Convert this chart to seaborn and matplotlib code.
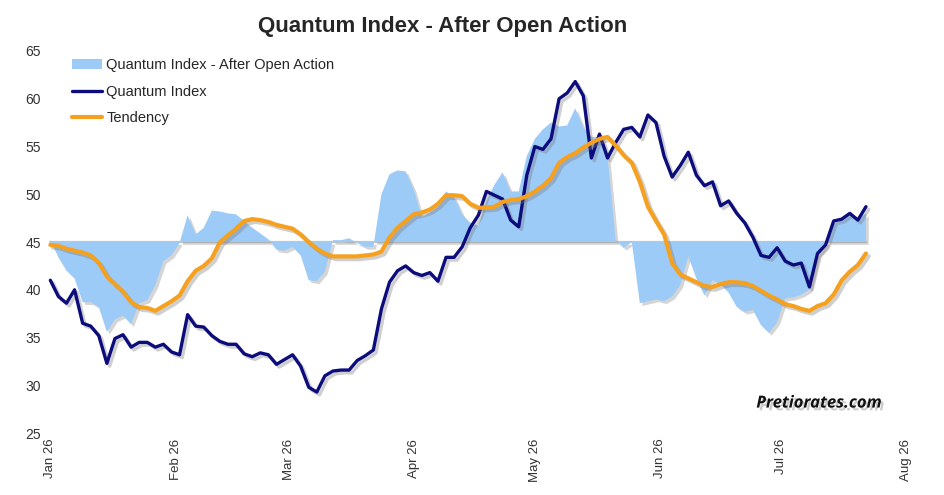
import matplotlib
matplotlib.use("Agg")
import matplotlib.pyplot as plt
import matplotlib.dates as mdates
import matplotlib.patheffects as pe
from matplotlib.patches import Patch
from matplotlib.lines import Line2D
import seaborn as sns
import pandas as pd
import numpy as np

# values, one every two calendar days from 1 Jan 2026
start_date = "2026-01-01"
step = "2D"

quantum_index = [
    41.0, 39.3, 38.6, 40.0, 36.5, 36.2, 35.2, 32.3, 34.9, 35.3,
    34.0, 34.5, 34.5, 34.0, 34.3, 33.5, 33.2, 37.4, 36.2, 36.1,
    35.2, 34.6, 34.3, 34.3, 33.3, 33.0, 33.4, 33.2, 32.2, 32.7,
    33.2, 32.0, 29.8, 29.3, 31.0, 31.5, 31.6, 31.6, 32.6, 33.1,
    33.7, 38.0, 40.8, 42.0, 42.5, 41.8, 41.5, 41.8, 40.9, 43.4,
    43.4, 44.5, 46.5, 47.8, 50.3, 49.9, 49.5, 47.3, 46.6, 52.0,
    55.0, 54.7, 55.8, 60.0, 60.6, 61.8, 60.3, 53.8, 56.3, 53.8,
    55.4, 56.8, 57.0, 56.0, 58.3, 57.5, 54.0, 51.8, 53.0, 54.4,
    52.0, 50.9, 51.3, 48.8, 49.3, 48.0, 47.0, 45.5, 43.6, 43.4,
    44.4, 43.0, 42.6, 42.8, 40.3, 43.8, 44.7, 47.2, 47.4, 48.0,
    47.3, 48.7,
]

tendency = [
    44.7, 44.6, 44.3, 44.1, 43.9, 43.6, 42.8, 41.4, 40.6, 39.8,
    38.7, 38.2, 38.1, 37.8, 38.3, 38.8, 39.4, 40.9, 42.0, 42.5,
    43.3, 45.0, 45.7, 46.4, 47.2, 47.4, 47.3, 47.1, 46.8, 46.6,
    46.4, 45.8, 45.0, 44.3, 43.8, 43.5, 43.5, 43.5, 43.5, 43.6,
    43.7, 44.0, 45.5, 46.5, 47.2, 47.9, 48.1, 48.4, 49.0, 49.9,
    49.9, 49.8, 49.0, 48.6, 48.6, 48.7, 49.2, 49.4, 49.5, 49.8,
    50.3, 50.9, 51.7, 53.3, 53.9, 54.3, 54.9, 55.4, 55.8, 56.0,
    55.1, 54.1, 53.3, 51.3, 48.7, 47.2, 45.8, 42.8, 41.6, 41.2,
    40.8, 40.4, 40.3, 40.6, 40.8, 40.8, 40.7, 40.4, 39.9, 39.4,
    39.0, 38.5, 38.3, 38.0, 37.8, 38.3, 38.6, 39.5, 41.0, 41.9,
    42.6, 43.8,
]

after_open_action = [
    45.2, 43.4, 42.0, 41.2, 38.7, 38.7, 38.2, 35.6, 36.9, 37.3,
    36.4, 38.6, 38.9, 40.5, 43.0, 43.6, 44.9, 47.8, 45.8, 46.5,
    48.3, 48.2, 48.0, 47.9, 47.2, 46.5, 45.9, 45.3, 44.2, 44.1,
    44.5, 43.6, 41.0, 40.9, 41.9, 45.2, 45.2, 45.4, 44.9, 44.5,
    44.5, 50.0, 52.1, 52.5, 52.4, 50.5, 47.6, 48.1, 48.7, 50.3,
    49.7, 47.9, 47.0, 46.7, 49.3, 51.0, 52.3, 50.3, 50.3, 54.0,
    55.8, 56.8, 57.5, 57.1, 57.2, 59.0, 57.0, 56.0, 56.0, 54.0,
    45.2, 44.4, 45.0, 38.6, 38.8, 39.0, 38.8, 39.3, 40.5, 43.5,
    41.2, 39.4, 41.0, 40.6, 39.7, 38.2, 37.7, 37.9, 36.3, 35.5,
    36.6, 39.1, 39.2, 39.5, 40.0, 43.6, 44.6, 46.9, 47.3, 47.8,
    47.4, 48.0,
]

base_level = 45
y_ticks = [25, 30, 35, 40, 45, 50, 55, 60, 65]

FILL_COLOR = "#9dcbf7"
INDEX_COLOR = "#0c0c7c"
TREND_COLOR = "#f5a11f"

dates = pd.date_range(start_date, periods=len(quantum_index), freq=step)
df = pd.DataFrame(
    {
        "Date": dates,
        "Quantum Index": quantum_index,
        "Tendency": tendency,
        "After Open Action": after_open_action,
    }
)

sns.set_style("white")
plt.rcParams["font.family"] = ["Liberation Sans", "DejaVu Sans"]

fig = plt.figure(figsize=(9.45, 4.95), dpi=100)
ax = fig.add_axes([0.049, 0.125, 0.94, 0.772])

shadow = [pe.SimpleLineShadow(offset=(2, -2), shadow_color="#777777", alpha=0.35), pe.Normal()]

# area around the 45 level, with a grey base line under it
ax.plot([dates[0], dates[-1]], [base_level, base_level], color="#c4c4c4", lw=1.6, zorder=0.5)
area = ax.fill_between(
    df["Date"], base_level, df["After Open Action"], color=FILL_COLOR, lw=0, zorder=1
)
area.set_path_effects(
    [pe.SimplePatchShadow(offset=(2, -2), shadow_rgbFace="#888888", alpha=0.35), pe.Normal()]
)

sns.lineplot(df, x="Date", y="Quantum Index", color=INDEX_COLOR, lw=2.4, ax=ax, zorder=3)
sns.lineplot(df, x="Date", y="Tendency", color=TREND_COLOR, lw=3.0, ax=ax, zorder=4)
for line in ax.lines[1:]:
    line.set_path_effects(shadow)

ax.set_xlim(pd.Timestamp("2025-12-31"), pd.Timestamp("2026-08-08"))
ax.set_ylim(25, 65)
ax.set_yticks(y_ticks)
ax.xaxis.set_major_locator(mdates.MonthLocator())
ax.xaxis.set_major_formatter(mdates.DateFormatter("%b %y"))
ax.tick_params(axis="x", labelrotation=90, labelsize=9.5, colors="#333333", length=0, pad=4)
ax.tick_params(axis="y", labelsize=10, colors="#333333", length=0, pad=4)
ax.set_xlabel("")
ax.set_ylabel("")
sns.despine(ax=ax, left=True, bottom=True)

fig.suptitle(
    "Quantum Index - After Open Action", x=0.468, y=0.968, fontsize=16, fontweight="bold"
)

handles = [
    Patch(facecolor=FILL_COLOR, edgecolor="none", label="Quantum Index - After Open Action"),
    Line2D([0], [0], color=INDEX_COLOR, lw=2.4, label="Quantum Index"),
    Line2D([0], [0], color=TREND_COLOR, lw=3.0, label="Tendency"),
]
ax.legend(
    handles=handles,
    loc="upper left",
    bbox_to_anchor=(0.014, 1.015),
    frameon=False,
    fontsize=10.5,
    handlelength=2.1,
    handletextpad=0.25,
    labelspacing=0.85,
)

ax.text(
    0.94, 0.08, "Pretiorates.com", transform=ax.transAxes, ha="right", va="center",
    fontsize=12, fontweight="bold", style="italic", color="#111111",
    family=["Open Sans", "DejaVu Sans"],
    path_effects=[pe.withSimplePatchShadow(offset=(2, -2), shadow_rgbFace="#999999", alpha=0.5)],
)

fig.savefig("out.png", dpi=100)
